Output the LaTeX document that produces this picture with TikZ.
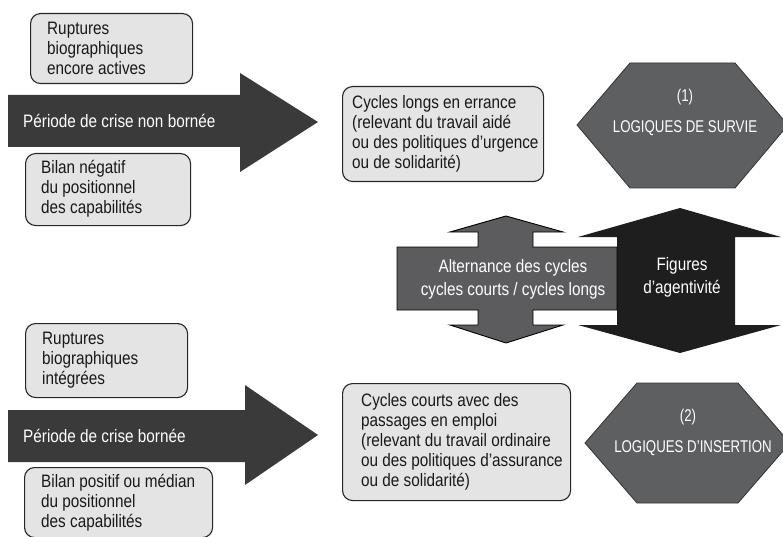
\documentclass[tikz,border=0pt]{standalone}
\usepackage{fontspec}
\setmainfont{Liberation Sans}[FakeStretch=0.85]
\newfontfamily\hexfont{Liberation Sans}[FakeStretch=0.78]
\definecolor{boxfill}{HTML}{E4E4E4}
\definecolor{bigarrow}{HTML}{3A3A3A}
\definecolor{hexfill}{HTML}{5E5F61}
\definecolor{grayarrow}{HTML}{5C5C5E}
\definecolor{blackarrow}{HTML}{1E1E1E}
\tikzset{
  infobox/.style={draw=black!85, line width=1.1pt, fill=boxfill, rounded corners=10pt, inner sep=0pt},
  boxtext/.style={anchor=west, align=left, inner sep=0pt, font=\fontsize{18}{20}\selectfont, text=black!90},
  whitetext/.style={inner sep=0pt, align=center, font=\fontsize{18}{23}\selectfont, text=white},
  hextext/.style={inner sep=0pt, align=center, font=\hexfont\fontsize{17}{20}\selectfont, text=white},
  bigarrowshape/.style={fill=bigarrow, draw=none},
  hexshape/.style={fill=hexfill, draw=black!80, line width=0.8pt},
}
\begin{document}
\begin{tikzpicture}[x=1pt,y=-1pt]
\useasboundingbox (0,0) rectangle (783,537);
\clip (0,0) rectangle (783,537);

% ---------- upper half ----------
\node[infobox, minimum width=162, minimum height=70, anchor=north west] (rup1) at (30,13) {};
\node[boxtext] (rup1t) at (47,48) {Ruptures\\biographiques\\encore actives};

\fill[bigarrowshape] (8,95) -- (240,95) -- (240,73) -- (318,122) -- (240,172) -- (240,147) -- (8,147) -- cycle;
\node[whitetext, anchor=west] (crise1) at (23,121) {Période de crise non bornée};

\node[infobox, minimum width=165, minimum height=72, anchor=north west] (bil1) at (25,153) {};
\node[boxtext] (bil1t) at (41,189) {Bilan négatif\\du positionnel\\des capabilités};

\node[infobox, minimum width=201, minimum height=95, anchor=north west] (cyc1) at (342,86) {};
\node[boxtext] (cyc1t) at (352,133.5) {Cycles longs en errance\\(relevant du travail aidé\\ou des politiques d’urgence\\ou de solidarité)};

\draw[hexshape] (577,125) -- (630,63) -- (735,63) -- (788,125) -- (735,188) -- (630,188) -- cycle;
\node[hextext] (hex1a) at (685,97) {(1)};
\node[hextext] (hex1b) at (685,128) {LOGIQUES DE SURVIE};

% ---------- middle arrows ----------
\fill[blackarrow] (617,237) -- (578,237) -- (680,208) -- (781,237) -- (735,237) -- (735,325) -- (781,325) -- (680,353) -- (578,325) -- (617,325) -- cycle;
\draw[fill=grayarrow, draw=black, line width=0.9pt] (397,247) -- (478,247) -- (478,232) -- (450,232) -- (506,216) -- (563,232) -- (533,232) -- (533,247) -- (617,247) -- (617,310) -- (533,310) -- (533,325) -- (563,325) -- (506,343) -- (450,325) -- (478,325) -- (478,310) -- (397,310) -- cycle;
\node[whitetext] (alt) at (513,279) {Alternance des cycles\\cycles courts / cycles longs};
\node[whitetext] (fig) at (682,277) {Figures\\d’agentivité};

% ---------- lower half ----------
\node[infobox, minimum width=162, minimum height=74, anchor=north west] (rup2) at (25,323) {};
\node[boxtext] (rup2t) at (42,360) {Ruptures\\biographiques\\intégrées};

\fill[bigarrowshape] (8,410) -- (245,410) -- (245,385) -- (318,435) -- (245,485) -- (245,462) -- (8,462) -- cycle;
\node[whitetext, anchor=west] (crise2) at (23,436) {Période de crise bornée};

\node[infobox, minimum width=188, minimum height=70, anchor=north west] (bil2) at (24,467) {};
\node[boxtext] (bil2t) at (41,503) {Bilan positif ou médian\\du positionnel\\des capabilités};

\node[infobox, minimum width=228, minimum height=117, anchor=north west] (cyc2) at (342,383) {};
\node[boxtext] (cyc2t) at (361,441.5) {Cycles courts avec des\\passages en emploi\\(relevant du travail ordinaire\\ou des politiques d’assurance\\ou de solidarité)};

\draw[hexshape] (585,443) -- (637,383) -- (738,383) -- (790,443) -- (738,503) -- (637,503) -- cycle;
\node[hextext] (hex2a) at (688,417) {(2)};
\node[hextext] (hex2b) at (693,448) {LOGIQUES D’INSERTION};
\end{tikzpicture}
\end{document}
